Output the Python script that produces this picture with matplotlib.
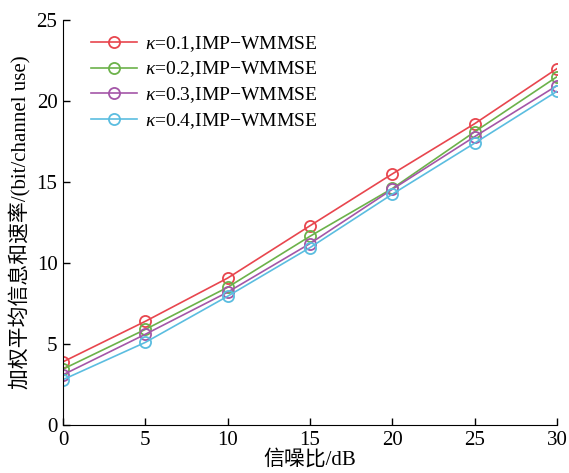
import matplotlib
matplotlib.use("Agg")
import matplotlib.pyplot as plt

snr = [0, 5, 10, 15, 20, 25, 30]
k01 = [3.9, 6.4, 9.07, 12.3, 15.5, 18.6, 22.0]
k02 = [3.45, 5.9, 8.5, 11.65, 14.6, 18.1, 21.5]
k03 = [3.1, 5.6, 8.2, 11.2, 14.55, 17.8, 20.95]
k04 = [2.8, 5.1, 7.95, 10.95, 14.25, 17.4, 20.6]
labels = [r"$\kappa$=0.1,IMP$-$WMMSE", r"$\kappa$=0.2,IMP$-$WMMSE",
          r"$\kappa$=0.3,IMP$-$WMMSE", r"$\kappa$=0.4,IMP$-$WMMSE"]
colors = ["#e8464e", "#6cb24a", "#a456a8", "#5bbde0"]
xticks = [0, 5, 10, 15, 20, 25, 30]
yticks = [0, 5, 10, 15, 20, 25]

plt.rcParams['mathtext.fontset'] = 'custom'
plt.rcParams['mathtext.rm'] = 'Liberation Serif'
plt.rcParams['mathtext.it'] = 'Liberation Serif:italic'

fig = plt.figure(figsize=(5.69, 4.73), dpi=100)
ax = fig.add_axes([63/569, 48/473, 494/569, 405/473])

for ys, c, lab in zip([k01, k02, k03, k04], colors, labels):
    ax.plot(snr, ys, color=c, lw=1.2, marker='o', mfc='none', mec=c,
            ms=8, mew=1.3, label=lab)

ax.set_xlim(0, 30)
ax.set_ylim(0, 25)
ax.set_xticks(xticks)
ax.set_yticks(yticks)
ax.spines['top'].set_visible(False)
ax.spines['right'].set_visible(False)
ax.tick_params(direction='in', length=5, width=1, labelsize=15, pad=4)
for t in ax.get_xticklabels() + ax.get_yticklabels():
    t.set_fontfamily('Liberation Serif')

fam = ['Liberation Serif', 'Noto Sans CJK SC']
ax.set_xlabel("信噪比/dB", family=fam, fontsize=15, labelpad=0)
ax.set_ylabel("加权平均信息和速率/(bit/channel use)", family=fam, fontsize=15, labelpad=4)

leg = ax.legend(loc='upper left', frameon=False, prop={'family': 'Liberation Serif', 'size': 14},
                handlelength=2.4, handletextpad=0.4, labelspacing=0.3,
                borderaxespad=0.0, bbox_to_anchor=(0.04, 0.985))

fig.savefig("out.png", dpi=100)
